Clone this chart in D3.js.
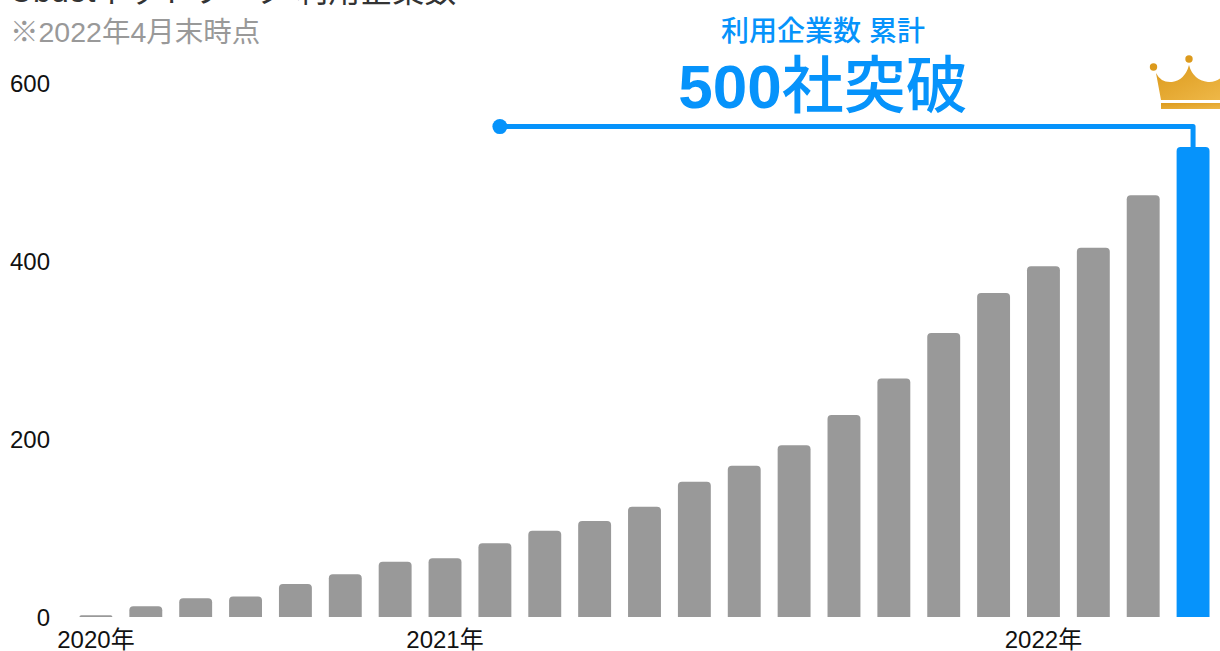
<!DOCTYPE html>
<html>
<head>
<meta charset="utf-8">
<script src="https://cdnjs.cloudflare.com/ajax/libs/d3/7.8.5/d3.min.js"></script>
<style>
body { margin: 0; background: #fff; overflow: hidden; }
text { font-family: "Liberation Sans", "Noto Sans CJK JP", sans-serif; }
</style>
</head>
<body>
<div class="chart-svg"></div>
<script>
var months = ["2020-06","2020-07","2020-08","2020-09","2020-10","2020-11","2020-12",
    "2021-01","2021-02","2021-03","2021-04","2021-05","2021-06","2021-07","2021-08","2021-09","2021-10","2021-11","2021-12",
    "2022-01","2022-02","2022-03","2022-04"];
var companies = [2,12,21,23,37,48,62,66,83,97,108,124,152,170,193,227,268,319,364,394,415,474,528];
var yTicks = [0,200,400,600];
var yearMonths = ["2020-06","2021-01","2022-01"];
var yearLabels = ["2020年","2021年","2022年"];
// title is cut off by the top edge of the reference, only the end of it can be made out
var titleText = "Ubdotネットワーク 利用企業数";
var noteText = "※2022年4月末時点";
var calloutSmall = "利用企業数 累計";
var calloutBigNumber = "500";
var calloutBigWord = "社突破";
var calloutStartMonth = "2021-02";
var calloutValue = 551;

var width = 1220, height = 651;
var grey = "#999999", blue = "#0693fb";

var svg = d3.select(".chart-svg")
    .append("svg")
    .attr("width", width)
    .attr("height", height)
    .style("display", "block");

var xScale = d3.scaleBand()
    .domain(months)
    .range([71, 1218])
    .paddingInner(0.34)
    .paddingOuter(0.17);

var yScale = d3.scaleLinear()
    .domain([0, 600])
    .range([617, 83]);

function cx(m){ return xScale(m) + xScale.bandwidth() / 2; }

// bars, round on top only
function barPath(m, v){
    var x0 = xScale(m), x1 = x0 + xScale.bandwidth();
    var y0 = yScale(0), y1 = yScale(v);
    var r = Math.min(4, y0 - y1);
    return "M" + x0 + "," + y0 + "L" + x0 + "," + (y1 + r) + "Q" + x0 + "," + y1 + " " + (x0 + r) + "," + y1 +
        "L" + (x1 - r) + "," + y1 + "Q" + x1 + "," + y1 + " " + x1 + "," + (y1 + r) + "L" + x1 + "," + y0 + "Z";
}

svg.selectAll("path.bar")
    .data(months)
    .enter()
    .append("path")
    .attr("class", "bar")
    .attr("d", function(d, i){ return barPath(d, companies[i]); })
    .attr("fill", function(d, i){ return i == months.length - 1 ? blue : grey; });

// axes
var yAxis = d3.axisLeft(yScale).tickValues(yTicks).tickSize(0).tickPadding(0);
var gy = svg.append("g").attr("transform", "translate(50,1)").call(yAxis);
gy.select(".domain").remove();
gy.selectAll("text").attr("font-size", 24).attr("fill", "#111").attr("font-family", "Liberation Sans");

svg.selectAll("text.year")
    .data(yearLabels)
    .enter()
    .append("text")
    .attr("class", "year")
    .attr("x", function(d, i){ return cx(yearMonths[i]); })
    .attr("y", 648)
    .attr("text-anchor", "middle")
    .attr("font-size", 24)
    .attr("fill", "#111")
    .text(function(d){ return d; });

// header
svg.append("text").attr("x", 10).attr("y", 2).attr("font-size", 32).attr("fill", "#333").text(titleText);
svg.append("text").attr("x", 10).attr("y", 42).attr("font-size", 28.5).attr("fill", grey).text(noteText);

// callout
var lineLast = months[months.length - 1];
svg.append("path")
    .attr("d", d3.line()([[cx(calloutStartMonth) + 5, yScale(calloutValue)], [cx(lineLast), yScale(calloutValue)], [cx(lineLast), yScale(companies[companies.length - 1])]]))
    .attr("fill", "none")
    .attr("stroke", blue)
    .attr("stroke-width", 5)
    .attr("stroke-linejoin", "round");
svg.append("circle")
    .attr("cx", cx(calloutStartMonth) + 5)
    .attr("cy", yScale(calloutValue))
    .attr("r", 7.5)
    .attr("fill", blue);
svg.append("text").attr("x", 823).attr("y", 41).attr("text-anchor", "middle").attr("font-size", 28).attr("font-weight", 500).attr("fill", blue).text(calloutSmall);
var big = svg.append("text").attr("x", 823).attr("y", 108).attr("text-anchor", "middle").attr("font-size", 62).attr("fill", blue);
big.append("tspan").attr("font-weight", 700).text(calloutBigNumber);
big.append("tspan").attr("font-weight", 500).text(calloutBigWord);

// crown
var crown = svg.append("g").attr("transform", "translate(1149,56)");
var gold = crown.append("defs").append("linearGradient").attr("id", "gold").attr("x1", 0).attr("y1", 0).attr("x2", 1).attr("y2", 1);
gold.append("stop").attr("offset", "0").attr("stop-color", "#dc9a1c");
gold.append("stop").attr("offset", "1").attr("stop-color", "#efb94a");
crown.append("path")
    .attr("d", "M7,17 Q12,27 23,26 Q36,24 40,9 Q44,24 59,26 Q70,27 78,15 L78,44 L12,44 Z")
    .attr("fill", "url(#gold)");
crown.append("rect").attr("x", 12).attr("y", 47).attr("width", 66).attr("height", 6).attr("fill", "url(#gold)");
crown.append("circle").attr("cx", 4.5).attr("cy", 11).attr("r", 3.7).attr("fill", "#dc9a1c");
crown.append("circle").attr("cx", 40).attr("cy", 3).attr("r", 3.7).attr("fill", "#dc9a1c");
</script>
</body>
</html>
